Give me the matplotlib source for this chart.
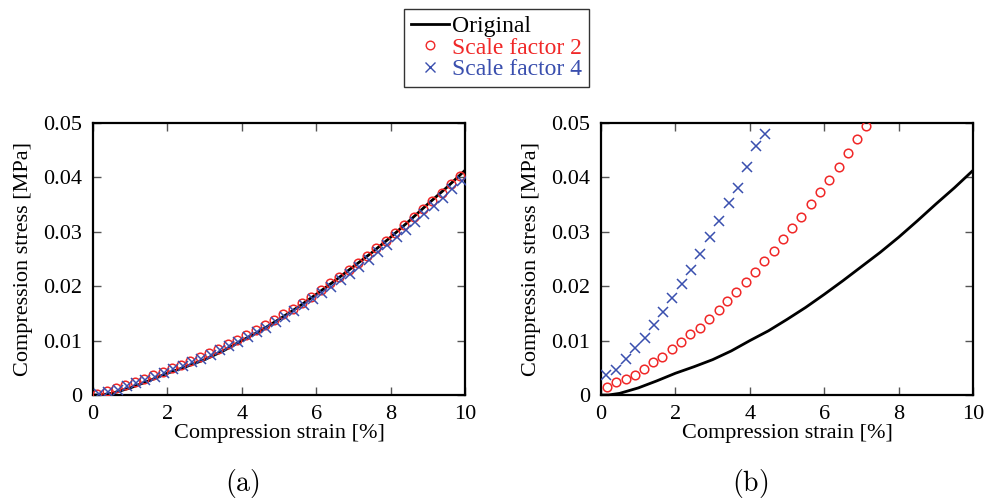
import matplotlib
matplotlib.use('Agg')
import matplotlib.pyplot as plt
from matplotlib.lines import Line2D

plt.rcParams['font.family'] = 'Liberation Serif'
plt.rcParams['mathtext.fontset'] = 'cm'

red = '#f02828'
blue = '#3a4fae'

# Original curve (same in both panels)
orig_x = [0.0, 0.2, 0.5, 1.0, 1.5, 2.0, 2.5, 3.0, 3.5, 4.0, 4.5, 5.0, 5.5,
          6.0, 6.5, 7.0, 7.5, 8.0, 8.5, 9.0, 9.5, 10.0]
orig_y = [0.0, 0.0, 0.0003, 0.0013, 0.0026, 0.0040, 0.0052, 0.0065, 0.0081,
          0.0100, 0.0118, 0.0139, 0.0161, 0.0185, 0.0210, 0.0236, 0.0262,
          0.0290, 0.0320, 0.0351, 0.0381, 0.0413]

# (a) rescaled results
a_sf2_x = [0.12, 0.37, 0.62, 0.87, 1.12, 1.37, 1.62, 1.87, 2.12, 2.37, 2.62, 2.87,
           3.12, 3.37, 3.62, 3.87, 4.12, 4.37, 4.62, 4.87, 5.12, 5.37, 5.62, 5.87,
           6.12, 6.37, 6.62, 6.87, 7.12, 7.37, 7.62, 7.87, 8.12, 8.37, 8.62, 8.87,
           9.12, 9.37, 9.62, 9.87]
a_sf2_y = [0.0002, 0.0007, 0.0012, 0.0018, 0.0024, 0.0030, 0.0036, 0.0042, 0.0049,
           0.0056, 0.0063, 0.0070, 0.0077, 0.0085, 0.0093, 0.0101, 0.0110, 0.0119,
           0.0128, 0.0138, 0.0148, 0.0159, 0.0170, 0.0181, 0.0193, 0.0205, 0.0217,
           0.0230, 0.0243, 0.0256, 0.0270, 0.0284, 0.0298, 0.0313, 0.0327, 0.0341,
           0.0356, 0.0372, 0.0387, 0.0403]
a_sf4_x = [0.16, 0.41, 0.66, 0.91, 1.16, 1.41, 1.66, 1.91, 2.16, 2.41, 2.66, 2.91,
           3.16, 3.41, 3.66, 3.91, 4.16, 4.41, 4.66, 4.91, 5.16, 5.41, 5.66, 5.91,
           6.16, 6.41, 6.66, 6.91, 7.16, 7.41, 7.66, 7.91, 8.16, 8.41, 8.66, 8.91,
           9.16, 9.41, 9.66, 9.91]
a_sf4_y = [0.0001, 0.0005, 0.0010, 0.0016, 0.0022, 0.0028, 0.0034, 0.0040, 0.0047,
           0.0053, 0.0060, 0.0067, 0.0074, 0.0082, 0.0090, 0.0098, 0.0106, 0.0115,
           0.0124, 0.0134, 0.0144, 0.0154, 0.0165, 0.0176, 0.0187, 0.0199, 0.0211,
           0.0223, 0.0236, 0.0249, 0.0262, 0.0276, 0.0290, 0.0304, 0.0318, 0.0332,
           0.0347, 0.0362, 0.0378, 0.0394]

# (b) unscaled results
b_sf2_x = [0.15, 0.40, 0.66, 0.91, 1.15, 1.40, 1.65, 1.90, 2.15, 2.40, 2.65, 2.91,
           3.16, 3.39, 3.64, 3.89, 4.14, 4.39, 4.65, 4.90, 5.13, 5.38, 5.63, 5.88,
           6.13, 6.39, 6.64, 6.89, 7.12]
b_sf2_y = [0.0015, 0.0023, 0.0030, 0.0037, 0.0048, 0.0060, 0.0070, 0.0084, 0.0097,
           0.0112, 0.0124, 0.0140, 0.0156, 0.0173, 0.0190, 0.0208, 0.0226, 0.0246,
           0.0264, 0.0287, 0.0307, 0.0328, 0.0351, 0.0373, 0.0396, 0.0420, 0.0445,
           0.0471, 0.0495]
b_sf4_x = [0.13, 0.40, 0.66, 0.91, 1.17, 1.42, 1.67, 1.92, 2.17, 2.42, 2.67, 2.92,
           3.17, 3.43, 3.68, 3.91, 4.16, 4.41]
b_sf4_y = [0.0037, 0.0046, 0.0066, 0.0086, 0.0104, 0.0129, 0.0152, 0.0178, 0.0204,
           0.0230, 0.0260, 0.0290, 0.0320, 0.0353, 0.0381, 0.0420, 0.0457, 0.0480]

xticks = [0, 2, 4, 6, 8, 10]
yticks = [0, 0.01, 0.02, 0.03, 0.04, 0.05]
ytick_labels = ['0', '0.01', '0.02', '0.03', '0.04', '0.05']

fig = plt.figure(figsize=(9.85, 5), dpi=100)
ax1 = fig.add_axes([0.0944, 0.21, 0.3777, 0.544])
ax2 = fig.add_axes([0.6102, 0.21, 0.3777, 0.544])

lw = 2.0
ms_o = 6.2
ms_x = 7.0

panels = [(ax1, a_sf2_x, a_sf2_y, a_sf4_x, a_sf4_y),
          (ax2, b_sf2_x, b_sf2_y, b_sf4_x, b_sf4_y)]
for ax, x2, y2, x4, y4 in panels:
    ax.plot(orig_x, orig_y, color='black', linewidth=lw, zorder=3)
    ax.plot(x2, y2, linestyle='none', marker='o', markersize=ms_o, markerfacecolor='none',
            markeredgecolor=red, markeredgewidth=1.1, zorder=4)
    ax.plot(x4, y4, linestyle='none', marker='x', markersize=ms_x,
            markeredgecolor=blue, markeredgewidth=1.1, zorder=4)
    ax.set_xlim(0, 10)
    ax.set_ylim(0, 0.05)
    ax.set_xticks(xticks)
    ax.set_yticks(yticks)
    ax.set_yticklabels(ytick_labels)
    ax.tick_params(direction='in', top=True, right=True, length=6, width=1.0,
                   labelsize=16, color='#555555')
    ax.tick_params(axis='y', pad=8)
    ax.tick_params(axis='x', pad=7)
    for sp in ax.spines.values():
        sp.set_linewidth(1.6)
    ax.set_xlabel('Compression strain [%]', fontsize=16, labelpad=0)
    ax.set_ylabel('Compression stress [MPa]', fontsize=16, labelpad=7)

handles = [Line2D([], [], color='black', linewidth=lw),
           Line2D([], [], linestyle='none', marker='o', markersize=ms_o,
                  markerfacecolor='none', markeredgecolor=red),
           Line2D([], [], linestyle='none', marker='x', markersize=ms_x,
                  markeredgecolor=blue)]
leg = fig.legend(handles, ['Original', 'Scale factor 2', 'Scale factor 4'],
                 loc='center', bbox_to_anchor=(496.5 / 985, 1 - 48 / 500),
                 fontsize=17, frameon=True, fancybox=False, edgecolor='black',
                 handlelength=1.6, handletextpad=0.1, labelspacing=0.0,
                 borderpad=0.3, borderaxespad=0)
leg.get_frame().set_linewidth(1.0)
for txt, c in zip(leg.get_texts(), ['black', red, blue]):
    txt.set_color(c)

fig.text(242 / 985, 1 - 483 / 500, r'$\mathrm{(a)}$', fontsize=20, ha='center', va='center')
fig.text(750 / 985, 1 - 483 / 500, r'$\mathrm{(b)}$', fontsize=20, ha='center', va='center')

fig.savefig('out.png', dpi=100)
